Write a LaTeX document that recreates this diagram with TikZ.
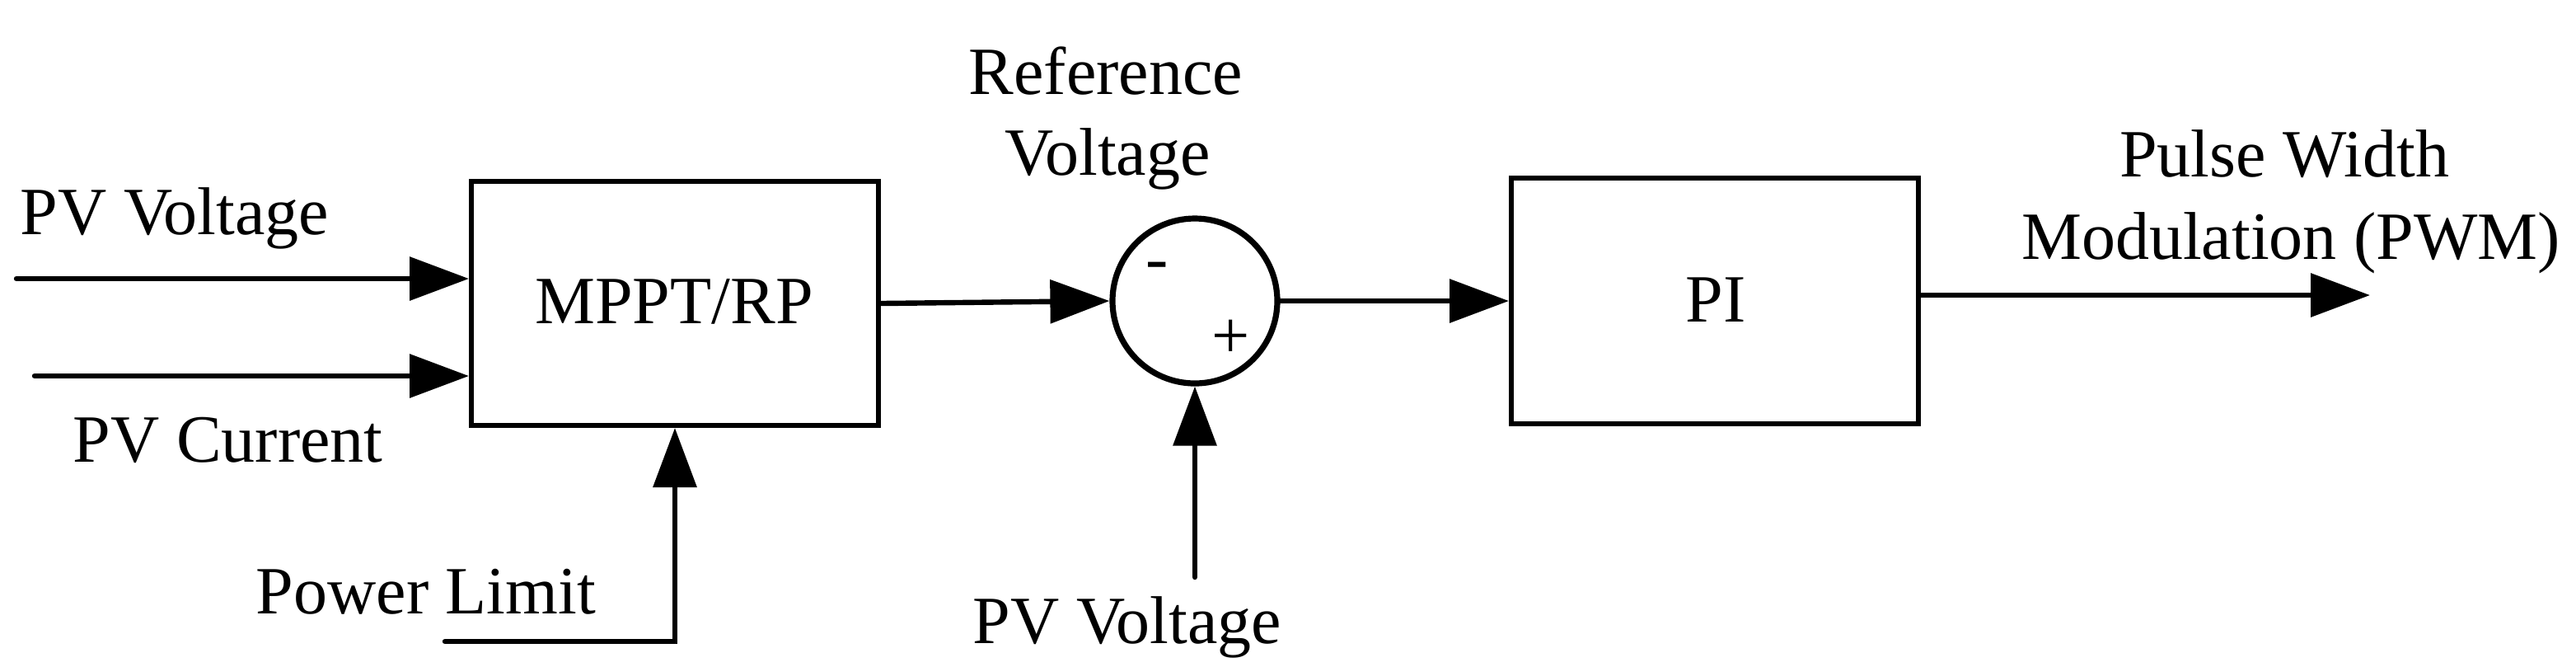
\documentclass[tikz,border=0pt]{standalone}
\usepackage{fontspec}
\setmainfont{Liberation Serif}
\usetikzlibrary{arrows.meta}
\begin{document}
\begin{tikzpicture}[x=0.5pt,y=-0.5pt,
  lbl/.style={inner sep=0pt,font=\fontsize{20.5pt}{24pt}\selectfont},
  blk/.style={draw,line width=1.5pt,inner sep=0pt},
  con/.style={line width=1.6pt,-{Triangle[length=18pt,width=13pt]}},
  line cap=round]
\useasboundingbox (0,0) rectangle (1563,404);
\node[blk,minimum width=123.5pt,minimum height=74pt] (mppt) at (409.5,184) {};
\node[lbl,anchor=base] (mpptt) at (409,196) {MPPT/RP};
\node[blk,minimum width=123.5pt,minimum height=74.5pt] (pi) at (1040.5,182.5) {};
\node[lbl,anchor=base] (pit) at (1041,195) {PI};
\node[draw,circle,line width=1.8pt,minimum size=50pt,inner sep=0pt] (sum) at (725,182.5) {};
\node[lbl,anchor=base] (minus) at (702,170) {-};
\node[lbl,anchor=base] (plus) at (747,217) {+};
\node[lbl,anchor=base west] (t1) at (12,142) {PV Voltage};
\node[lbl,anchor=base west] (t2) at (44,280) {PV Current};
\node[lbl,anchor=base west] (t3) at (155,372) {Power Limit};
\node[lbl,anchor=base] (t4) at (671,57) {Reference};
\node[lbl,anchor=base] (t5) at (672,106) {Voltage};
\node[lbl,anchor=base] (t6) at (684,390) {PV Voltage};
\node[lbl,anchor=base] (t7) at (1386,107) {Pulse Width};
\node[lbl,anchor=base] (t8) at (1390,157) {Modulation (PWM)};
\coordinate (a1) at (10,169);
\coordinate (a2) at (21,228);
\coordinate (a3) at (270,389);
\coordinate (a4) at (725,350);
\coordinate (out) at (1438,179);
\draw[con] (a1) -- (a1 -| mppt.west);
\draw[con] (a2) -- (a2 -| mppt.west);
\draw[con] (a3) -| (mppt.south);
\draw[con] (mppt.east) -- (sum.west);
\draw[con] (a4) -- (sum.south);
\draw[con] (sum.east) -- (sum.east -| pi.west);
\draw[con] (out -| pi.east) -- (out);
\end{tikzpicture}
\end{document}
